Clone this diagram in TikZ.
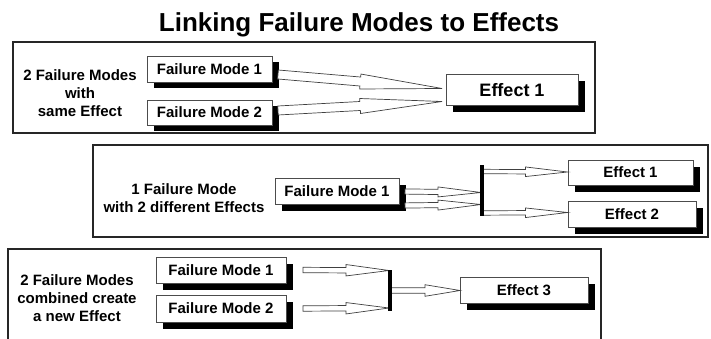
\documentclass[tikz,border=0pt]{standalone}
\usepackage{fontspec}
\setmainfont{Liberation Sans}
\usetikzlibrary{shadows,decorations.markings}

\tikzset{
  panel/.style={draw=black!85, line width=2.4pt},
  card/.style={draw=black!70, line width=0.8pt, fill=white, inner sep=0pt,
    font=\bfseries\fontsize{15}{18}\selectfont,
    drop shadow={shadow xshift=6.5pt, shadow yshift=-6.5pt, fill=black, opacity=1}},
  caption/.style={align=center, inner sep=0pt, font=\bfseries\fontsize{15}{18}\selectfont},
  bar/.style={fill=black, inner sep=0pt, minimum width=3.5pt},
  arrowline/.style={draw=black!75, fill=white, line width=0.7pt, line join=miter},
  % hollow block arrow: shaft half-width, head half-width, head length
  hollow/.style n args={3}{decoration={markings, mark=at position 0 with {
     \draw[arrowline] (0pt,#1pt)
       -- ({\pgfdecoratedpathlength-#3pt},#1pt)
       -- ({\pgfdecoratedpathlength-#3pt},#2pt)
       -- (\pgfdecoratedpathlength,0pt)
       -- ({\pgfdecoratedpathlength-#3pt},-#2pt)
       -- ({\pgfdecoratedpathlength-#3pt},-#1pt)
       -- (0pt,-#1pt) -- cycle;}}, decorate}
}

\begin{document}
\begin{tikzpicture}[x=1pt, y=-1pt]
\useasboundingbox (0,0) rectangle (711,339);
\clip (0,0) rectangle (711,339);

% title
\node[anchor=base, inner sep=0pt, font=\bfseries\fontsize{26}{30}\selectfont] (title) at (359,32) {Linking Failure Modes to Effects};

% panels
\draw[panel] (13,42) rectangle (595,133);
\draw[panel] (93,145) rectangle (708,237);
\draw[panel] (8,249) rectangle (601,345);

% panel 1: two failure modes, same effect
\node[caption] (c1) at (80,93) {2 Failure Modes\\with\\same Effect};
\node[card, minimum width=125pt, minimum height=26pt] (p1fm1) at (209.5,69) {Failure Mode 1};
\node[card, minimum width=125pt, minimum height=25pt] (p1fm2) at (209.5,112.5) {Failure Mode 2};
\node[card, minimum width=132pt, minimum height=31pt, font=\bfseries\fontsize{18}{20}\selectfont] (p1e1) at (512,89.7) {Effect 1};

\coordinate (s1) at (278,74.5);  \coordinate (t1) at (442,88.5);
\coordinate (s2) at (278,110.5); \coordinate (t2) at (442,101.5);
\path[hollow={4.5}{7.5}{82}] (s1) -- (t1);
\path[hollow={4.5}{7.5}{82}] (s2) -- (t2);

% panel 2: one failure mode, two effects
\node[caption] (c2) at (184,198.5) {1 Failure Mode\\with 2 different Effects};
\node[card, minimum width=124pt, minimum height=26pt] (p2fm1) at (337,191) {Failure Mode 1};
\node[card, minimum width=125pt, minimum height=25pt] (p2e1) at (630.5,172.5) {Effect 1};
\node[card, minimum width=128pt, minimum height=26pt] (p2e2) at (632,214) {Effect 2};

\coordinate (s3) at (405,191.5); \coordinate (t3) at (481,192.5);
\coordinate (s4) at (405,205.5); \coordinate (t4) at (481,204.5);
\coordinate (s5) at (482,171.5); \coordinate (t5) at (567.5,172);
\coordinate (s6) at (482,213);   \coordinate (t6) at (567.5,212.5);
\path[hollow={2.6}{5}{43}] (s3) -- (t3);
\path[hollow={2.6}{5}{43}] (s4) -- (t4);
\path[hollow={2.2}{4.8}{42}] (s5) -- (t5);
\path[hollow={2.2}{4.8}{42}] (s6) -- (t6);
\node[bar, minimum height=51pt] (bar2) at (481.75,190.5) {};

% panel 3: two failure modes combine into a new effect
\node[caption] (c3) at (77,298) {2 Failure Modes\\combined create\\a new Effect};
\node[card, minimum width=130pt, minimum height=26pt] (p3fm1) at (221,270) {Failure Mode 1};
\node[card, minimum width=130pt, minimum height=27pt] (p3fm2) at (221,308.5) {Failure Mode 2};
\node[card, minimum width=128pt, minimum height=25.6pt] (p3e3) at (524,290.5) {Effect 3};

\coordinate (s7) at (303,270);   \coordinate (t7) at (389,270.5);
\coordinate (s8) at (303,308.5); \coordinate (t8) at (389,308);
\coordinate (s9) at (391,290.5); \coordinate (t9) at (460,290.5);
\path[hollow={2.7}{5.7}{43}] (s7) -- (t7);
\path[hollow={2.7}{5.7}{43}] (s8) -- (t8);
\path[hollow={2.8}{5.8}{35}] (s9) -- (t9);
\node[bar, minimum width=4pt, minimum height=41pt] (bar3) at (390,290.5) {};
\end{tikzpicture}
\end{document}
